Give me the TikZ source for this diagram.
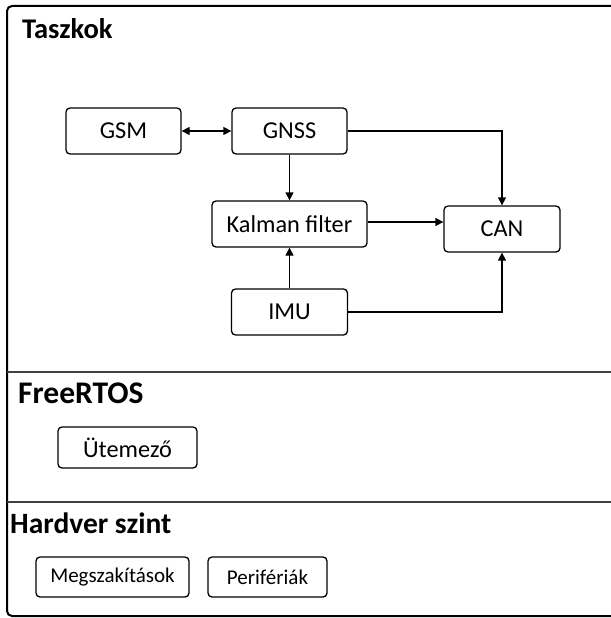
\documentclass[tikz,border=0pt]{standalone}
\usepackage{fontspec}
\setmainfont{Carlito}
\usetikzlibrary{arrows.meta}
\begin{document}
\begin{tikzpicture}[x=1pt,y=-1pt,
  box/.style={draw, rounded corners=4pt, line width=1.3pt, inner sep=0pt,
    font=\fontsize{24.3}{28}\selectfont},
  smallbox/.style={box, font=\fontsize{21}{25}\selectfont},
  layertitle/.style={anchor=base west, inner sep=0pt, font=\bfseries},
  link/.style={line width=1.3pt, -{Triangle[length=8pt,width=8pt]}},
  divider/.style={line width=1.5pt, draw=black!75}]
\useasboundingbox (0,0) rectangle (610,618);

% outer frame (its right side lies past the page edge) and layer separators
\draw[line width=2pt, rounded corners=5pt] (640,6) -- (7,6) -- (7,616) -- (640,616);
\draw[divider] (7,372) -- (640,372);
\draw[divider] (7,502) -- (640,502);

% layer titles
\node[layertitle, font=\bfseries\fontsize{28.5}{32}\selectfont] (t1) at (22,38) {Taszkok};
\node[layertitle, font=\bfseries\fontsize{31.5}{34}\selectfont] (t2) at (18,403) {FreeRTOS};
\node[layertitle, font=\bfseries\fontsize{29.5}{33}\selectfont] (t3) at (10,533) {Hardver szint};

% tasks
\node[box, minimum width=115pt, minimum height=46pt] (gsm) at (123.5,131) {GSM};
\node[box, minimum width=115pt, minimum height=46pt] (gnss) at (289.5,131) {GNSS};
\node[box, minimum width=155pt, minimum height=46pt] (kalman) at (289.5,224) {Kalman filter};
\node[box, minimum width=116pt, minimum height=46pt] (can) at (502,229) {CAN};
\node[box, minimum width=116pt, minimum height=46pt] (imu) at (289.5,312) {IMU};

% scheduler and hardware
\node[box, minimum width=139pt, minimum height=41pt] (sched) at (127.5,447.5) {Ütemező};
\node[smallbox, minimum width=153pt, minimum height=40pt] (irq) at (112.5,577) {Megszakítások};
\node[smallbox, minimum width=119pt, minimum height=40pt] (periph) at (267.5,577) {Perifériák};

% data flow between tasks
\draw[link, {Triangle[length=8pt,width=8pt]}-{Triangle[length=8pt,width=8pt]}] (gsm) -- (gnss);
\draw[link] (gnss) -- (kalman);
\draw[link] (gnss.east) -| (can.north);
\draw[link] ([yshift=2pt]kalman.east) -- ([yshift=2pt]kalman.east -| can.west);
\draw[link] (imu) -- (kalman);
\draw[link] (imu.east) -| (can.south);
\end{tikzpicture}
\end{document}
